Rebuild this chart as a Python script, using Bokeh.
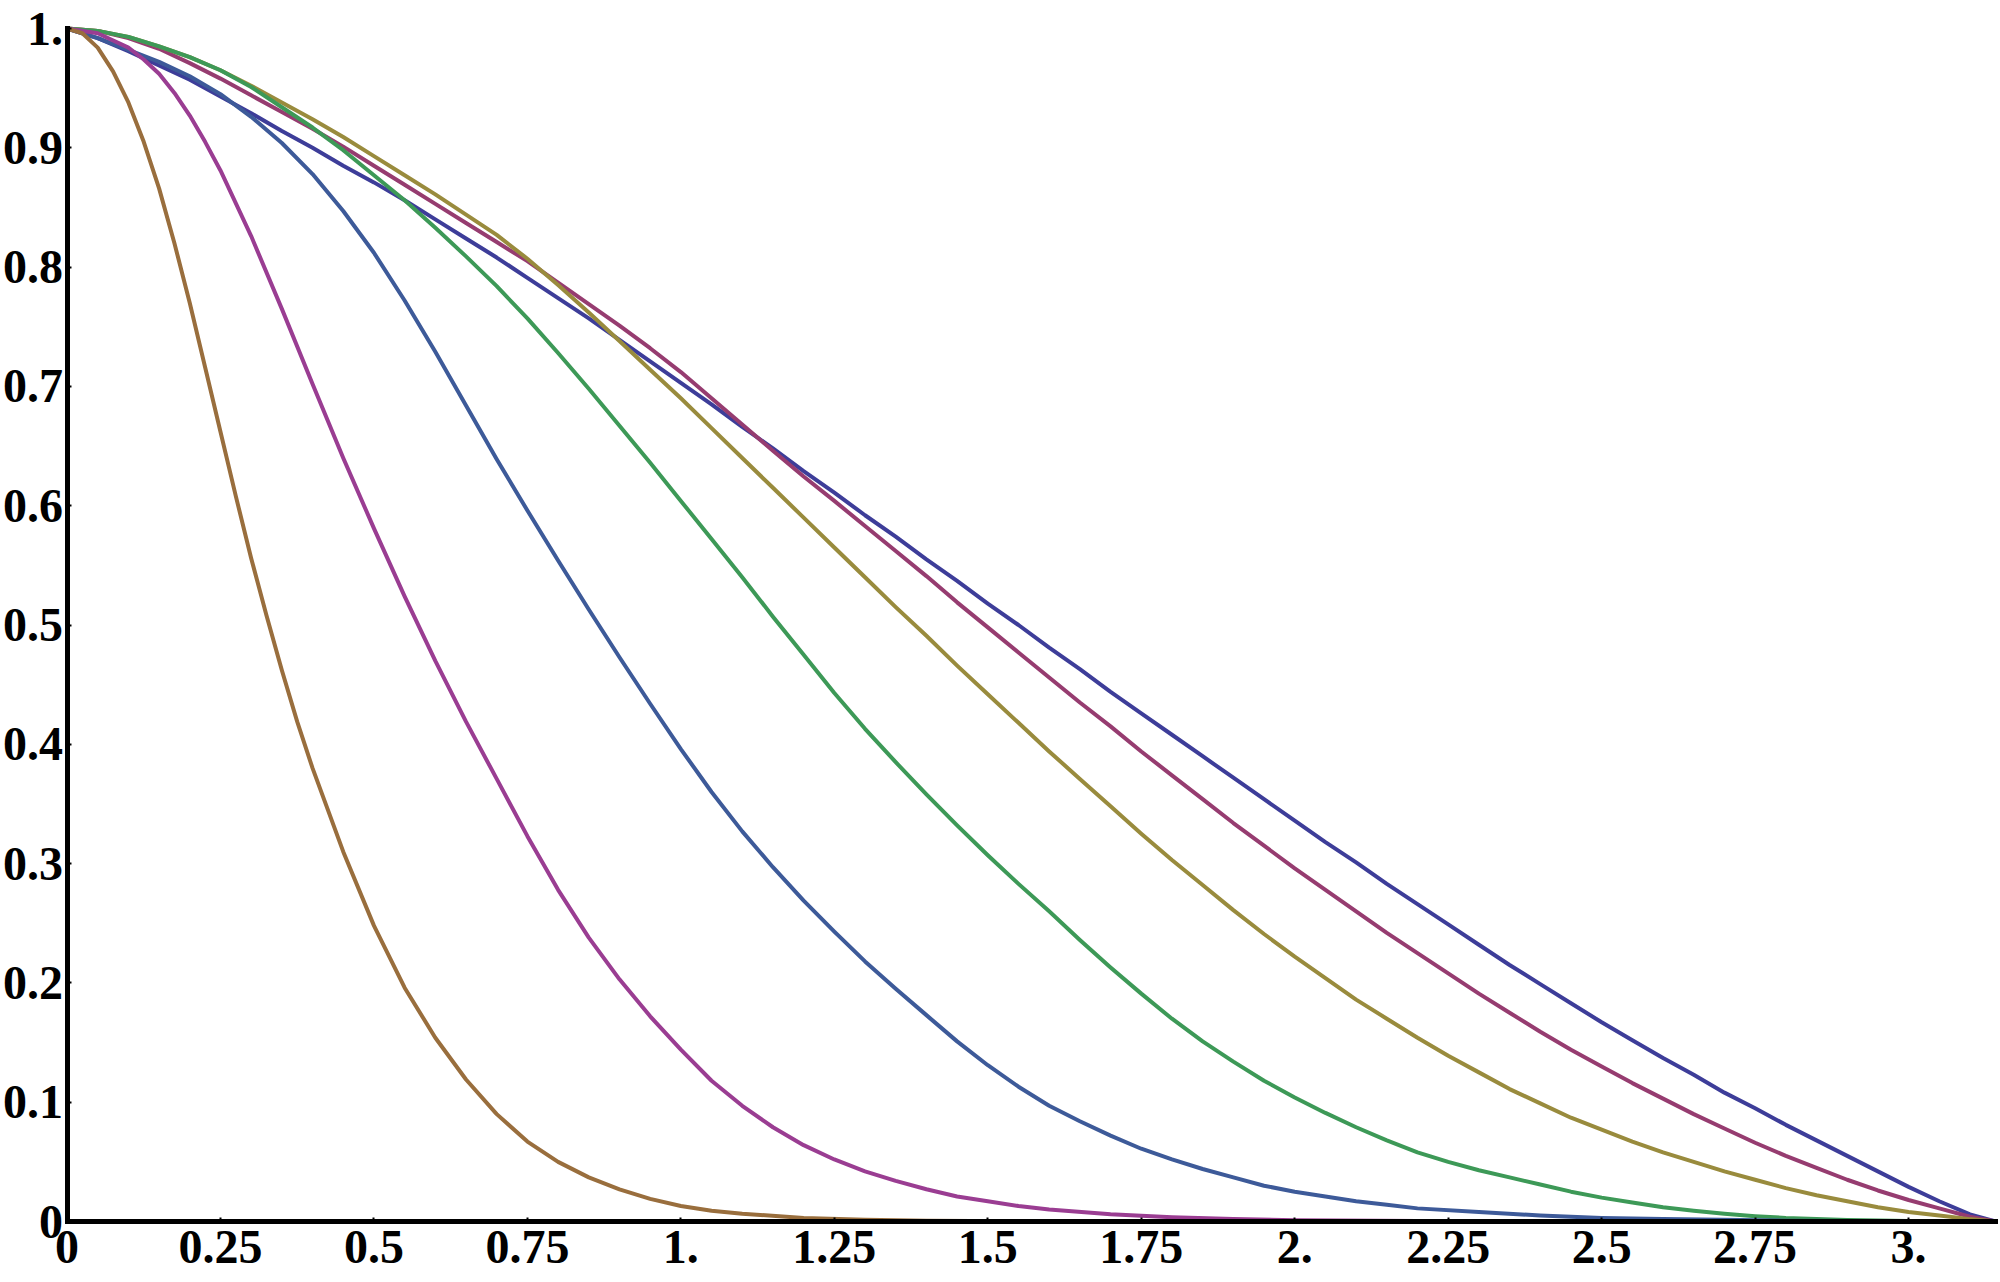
from bokeh.plotting import figure
from bokeh.models import Range1d, FixedTicker, AllLabels
from bokeh.embed import file_html
from bokeh.resources import INLINE

X_END = 3.14159

x_ticks = [0, 0.25, 0.5, 0.75, 1.0, 1.25, 1.5, 1.75, 2.0, 2.25, 2.5, 2.75, 3.0]
x_tick_labels = ["0", "0.25", "0.5", "0.75", "1.", "1.25", "1.5", "1.75", "2.", "2.25", "2.5", "2.75", "3."]
y_ticks = [0, 0.1, 0.2, 0.3, 0.4, 0.5, 0.6, 0.7, 0.8, 0.9, 1.0]
y_tick_labels = ["0", "0.1", "0.2", "0.3", "0.4", "0.5", "0.6", "0.7", "0.8", "0.9", "1."]

# series 1 (dark blue)
s1_x = [0, 0.05, 0.1, 0.15, 0.2, 0.25, 0.3, 0.35, 0.4, 0.45, 0.5, 0.55, 0.6, 0.65, 0.7, 0.75, 0.8, 0.85, 0.9, 0.95,
        1.0, 1.05, 1.1, 1.15, 1.2, 1.25, 1.3, 1.35, 1.4, 1.45, 1.5, 1.55, 1.6, 1.65, 1.7, 1.75, 1.8, 1.85, 1.9, 1.95,
        2.0, 2.05, 2.1, 2.15, 2.2, 2.25, 2.3, 2.35, 2.4, 2.45, 2.5, 2.55, 2.6, 2.65, 2.7, 2.75, 2.8, 2.85, 2.9, 2.95,
        3.0, 3.05, 3.1, X_END]
s1_y = [1.000, 0.992, 0.981, 0.969, 0.957, 0.943, 0.929, 0.914, 0.900, 0.885, 0.871, 0.856, 0.840, 0.824, 0.808, 0.791, 0.774, 0.757, 0.739, 0.721,
        0.703, 0.685, 0.666, 0.648, 0.629, 0.611, 0.592, 0.574, 0.555, 0.537, 0.518, 0.500, 0.481, 0.463, 0.444, 0.426, 0.408, 0.390, 0.372, 0.354,
        0.336, 0.318, 0.301, 0.283, 0.266, 0.249, 0.232, 0.215, 0.199, 0.183, 0.167, 0.152, 0.137, 0.123, 0.108, 0.095, 0.081, 0.068, 0.055, 0.042,
        0.029, 0.017, 0.006, 0.0]

# series 2 (maroon)
s2_x = [0, 0.05, 0.1, 0.15, 0.2, 0.25, 0.3, 0.35, 0.4, 0.45, 0.5, 0.55, 0.6, 0.65, 0.7, 0.75, 0.8, 0.85, 0.9, 0.95,
        1.0, 1.05, 1.1, 1.15, 1.2, 1.25, 1.3, 1.35, 1.4, 1.45, 1.5, 1.55, 1.6, 1.65, 1.7, 1.75, 1.8, 1.85, 1.9, 1.95,
        2.0, 2.05, 2.1, 2.15, 2.2, 2.25, 2.3, 2.35, 2.4, 2.45, 2.5, 2.55, 2.6, 2.65, 2.7, 2.75, 2.8, 2.85, 2.9, 2.95,
        3.0, 3.05, 3.1, X_END]
s2_y = [1.000, 0.998, 0.992, 0.983, 0.971, 0.958, 0.944, 0.930, 0.916, 0.901, 0.885, 0.869, 0.853, 0.837, 0.821, 0.805, 0.787, 0.769, 0.751, 0.732,
        0.712, 0.690, 0.668, 0.646, 0.6245, 0.604, 0.583, 0.562, 0.541, 0.519, 0.498, 0.477, 0.456, 0.435, 0.415, 0.394, 0.374, 0.354, 0.334, 0.315,
        0.296, 0.278, 0.260, 0.242, 0.225, 0.208, 0.191, 0.175, 0.159, 0.144, 0.130, 0.116, 0.103, 0.090, 0.078, 0.066, 0.055, 0.045, 0.035, 0.026,
        0.018, 0.011, 0.004, 0.0]

# series 3 (olive)
s3_x = [0, 0.05, 0.1, 0.15, 0.2, 0.25, 0.3, 0.35, 0.4, 0.45, 0.5, 0.55, 0.6, 0.65, 0.7, 0.75, 0.8, 0.85, 0.9, 0.95,
        1.0, 1.05, 1.1, 1.15, 1.2, 1.25, 1.3, 1.35, 1.4, 1.45, 1.5, 1.55, 1.6, 1.65, 1.7, 1.75, 1.8, 1.85, 1.9, 1.95,
        2.0, 2.05, 2.1, 2.15, 2.2, 2.25, 2.3, 2.35, 2.4, 2.45, 2.5, 2.55, 2.6, 2.65, 2.7, 2.75, 2.8, 2.85, 2.9, 2.95,
        3.0, 3.05, 3.1, X_END]
s3_y = [1.000, 0.998, 0.993, 0.985, 0.976, 0.965, 0.952, 0.938, 0.924, 0.909, 0.893, 0.877, 0.861, 0.844, 0.827, 0.807, 0.785, 0.762, 0.738, 0.714,
        0.690, 0.665, 0.640, 0.615, 0.590, 0.565, 0.540, 0.515, 0.491, 0.466, 0.442, 0.418, 0.394, 0.371, 0.348, 0.325, 0.303, 0.282, 0.261, 0.241,
        0.222, 0.204, 0.186, 0.170, 0.154, 0.139, 0.125, 0.111, 0.099, 0.087, 0.077, 0.067, 0.058, 0.050, 0.042, 0.035, 0.028, 0.022, 0.017, 0.012,
        0.008, 0.005, 0.002, 0.0]

# series 4 (green)
s4_x = [0, 0.05, 0.1, 0.15, 0.2, 0.25, 0.3, 0.35, 0.4, 0.45, 0.5, 0.55, 0.6, 0.65, 0.7, 0.75, 0.8, 0.85, 0.9, 0.95,
        1.0, 1.05, 1.1, 1.15, 1.2, 1.25, 1.3, 1.35, 1.4, 1.45, 1.5, 1.55, 1.6, 1.65, 1.7, 1.75, 1.8, 1.85, 1.9, 1.95,
        2.0, 2.05, 2.1, 2.15, 2.2, 2.25, 2.3, 2.35, 2.4, 2.45, 2.5, 2.55, 2.6, 2.65, 2.7, 2.75, 2.8, 2.9, 3.0, X_END]
s4_y = [1.000, 0.998, 0.993, 0.985, 0.976, 0.965, 0.951, 0.934, 0.917, 0.898, 0.877, 0.856, 0.833, 0.809, 0.784, 0.757, 0.728, 0.698, 0.667, 0.636,
        0.604, 0.572, 0.540, 0.507, 0.475, 0.443, 0.413, 0.385, 0.358, 0.332, 0.307, 0.283, 0.260, 0.236, 0.213, 0.191, 0.170, 0.151, 0.134, 0.118,
        0.104, 0.091, 0.079, 0.068, 0.058, 0.050, 0.043, 0.037, 0.031, 0.025, 0.020, 0.016, 0.012, 0.009, 0.0065, 0.0045, 0.003, 0.0013, 0.0004, 0.0]

# series 5 (blue)
s5_x = [0, 0.05, 0.1, 0.15, 0.2, 0.25, 0.3, 0.35, 0.4, 0.45, 0.5, 0.55, 0.6, 0.65, 0.7, 0.75, 0.8, 0.85, 0.9, 0.95,
        1.0, 1.05, 1.1, 1.15, 1.2, 1.25, 1.3, 1.35, 1.4, 1.45, 1.5, 1.55, 1.6, 1.65, 1.7, 1.75, 1.8, 1.85, 1.9, 1.95,
        2.0, 2.05, 2.1, 2.15, 2.2, 2.3, 2.4, 2.5, 2.6, 2.8, 3.0, X_END]
s5_y = [1.000, 0.992, 0.982, 0.972, 0.960, 0.945, 0.926, 0.904, 0.878, 0.847, 0.812, 0.772, 0.729, 0.684, 0.639, 0.596, 0.554, 0.513, 0.473, 0.434,
        0.396, 0.360, 0.327, 0.297, 0.269, 0.243, 0.218, 0.195, 0.173, 0.151, 0.131, 0.113, 0.097, 0.084, 0.072, 0.061, 0.052, 0.044, 0.037, 0.030,
        0.025, 0.021, 0.017, 0.014, 0.011, 0.008, 0.005, 0.003, 0.002, 0.0007, 0.0002, 0.0]

# series 6 (purple)
s6_x = [0, 0.05, 0.1, 0.125, 0.15, 0.175, 0.2, 0.225, 0.25, 0.3, 0.35, 0.4, 0.45, 0.5, 0.55, 0.6, 0.65, 0.7, 0.75, 0.8, 0.85, 0.9, 0.95,
        1.0, 1.05, 1.1, 1.15, 1.2, 1.25, 1.3, 1.35, 1.4, 1.45, 1.5, 1.55, 1.6, 1.7, 1.8, 1.9, 2.0, 2.2, 2.5, X_END]
s6_y = [1.000, 0.996, 0.984, 0.974, 0.962, 0.946, 0.927, 0.905, 0.881, 0.826, 0.765, 0.702, 0.640, 0.581, 0.524, 0.470, 0.419, 0.371, 0.323, 0.278, 0.238, 0.203, 0.172,
        0.144, 0.118, 0.097, 0.079, 0.064, 0.052, 0.042, 0.034, 0.027, 0.021, 0.017, 0.013, 0.010, 0.006, 0.0035, 0.002, 0.001, 0.0004, 0.0001, 0.0]

# series 7 (brown)
s7_x = [0, 0.025, 0.05, 0.075, 0.1, 0.125, 0.15, 0.175, 0.2, 0.225, 0.25, 0.275, 0.3, 0.325, 0.35, 0.375, 0.4, 0.45, 0.5, 0.55,
        0.6, 0.65, 0.7, 0.75, 0.8, 0.85, 0.9, 0.95, 1.0, 1.05, 1.1, 1.2, 1.3, 1.4, 1.6, X_END]
s7_y = [1.0, 0.996, 0.984, 0.964, 0.938, 0.905, 0.866, 0.820, 0.770, 0.716, 0.662, 0.608, 0.556, 0.508, 0.462, 0.419, 0.380, 0.310, 0.248, 0.196,
        0.154, 0.119, 0.090, 0.067, 0.050, 0.037, 0.027, 0.019, 0.013, 0.009, 0.0065, 0.003, 0.0015, 0.0007, 0.0001, 0.0]

series = [
    (s1_x, s1_y, "#3d3d99"),
    (s2_x, s2_y, "#963c70"),
    (s3_x, s3_y, "#998b3d"),
    (s4_x, s4_y, "#3d9957"),
    (s5_x, s5_y, "#3d5a99"),
    (s6_x, s6_y, "#9a3d92"),
    (s7_x, s7_y, "#996e3d"),
]

# ---- layout (pixels inside the figure canvas) ----
W, H = 1998, 1280
PX_X0, PX_XEND = 66.5, 1995    # where x=0 and x=X_END fall
PX_Y0, PX_Y1 = 1221, 28        # where y=0 and y=1 fall (from top)
sx = (PX_XEND - PX_X0) / X_END
sy = (PX_Y0 - PX_Y1) / 1.0
x_range = Range1d(-PX_X0 / sx, (W - PX_X0) / sx)
y_range = Range1d(-(H - PX_Y0) / sy, 1.0 + PX_Y1 / sy)

p = figure(width=W, height=H, x_range=x_range, y_range=y_range,
           output_backend="svg", toolbar_location=None,
           min_border_left=0, min_border_right=0, min_border_top=0, min_border_bottom=0)
p.xgrid.visible = False
p.ygrid.visible = False
p.outline_line_color = None
p.background_fill_color = "white"
p.border_fill_color = "white"

for xs, ys, c in series:
    p.line(xs, ys, line_color=c, line_width=4, line_join="round", line_cap="round")

xa = p.xaxis[0]
ya = p.yaxis[0]
xa.fixed_location = 0
ya.fixed_location = 0
xa.bounds = (0, X_END)
ya.bounds = (0, 1.0)
xa.ticker = FixedTicker(ticks=x_ticks)
ya.ticker = FixedTicker(ticks=y_ticks)
xa.major_label_overrides = dict(zip(x_ticks, x_tick_labels))
ya.major_label_overrides = dict(zip(y_ticks, y_tick_labels))
for ax in (xa, ya):
    ax.axis_line_width = 5
    ax.axis_line_color = "black"
    ax.axis_line_cap = "square"
    ax.major_tick_in = 4
    ax.major_tick_out = 0
    ax.major_tick_line_width = 2
    ax.major_tick_line_color = "black"
    ax.minor_tick_line_color = None
    ax.major_label_text_font = "Liberation Serif"
    ax.major_label_text_font_style = "bold"
    ax.major_label_text_font_size = "48px"
    ax.major_label_text_color = "black"
    ax.major_label_policy = AllLabels()
xa.major_label_standoff = 9
ya.major_label_standoff = 4

open("out.html", "w").write(file_html(p, INLINE))
